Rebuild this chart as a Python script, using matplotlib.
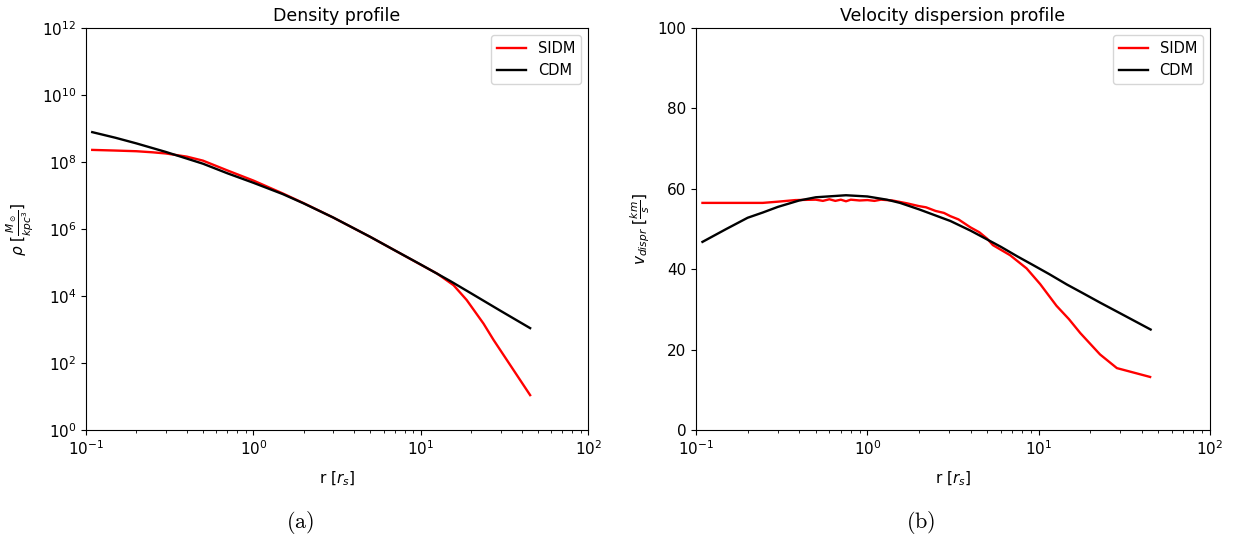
import matplotlib
matplotlib.use("Agg")
import matplotlib.pyplot as plt


# density profile, r in units of r_s
r_rho_cdm = [0.109, 0.15, 0.2, 0.3, 0.5, 0.7, 1.0, 1.5, 2.0, 3.0, 5.0, 7.0,
             10.0, 15.0, 20.0, 30.0, 45.0]
rho_cdm = [7.8e8, 5.3e8, 3.6e8, 2.0e8, 8.9e7, 4.6e7, 2.4e7, 1.1e7, 5.8e6,
           2.2e6, 5.8e5, 2.3e5, 8.7e4, 2.8e4, 1.2e4, 3.6e3, 1.1e3]

r_rho_sidm = [0.109, 0.15, 0.2, 0.25, 0.3, 0.4, 0.5, 0.7, 1.0, 1.5, 2.0,
              3.0, 5.0, 7.0, 10.0, 12.5, 15.7, 18.8, 21.0, 23.7, 27.2, 45.0]
rho_sidm = [2.3e8, 2.2e8, 2.1e8, 1.95e8, 1.8e8, 1.45e8, 1.1e8, 5.6e7, 2.8e7,
            1.15e7, 5.9e6, 2.2e6, 5.8e5, 2.3e5, 8.6e4, 4.7e4, 2.1e4, 7.6e3,
            3.5e3, 1.5e3, 4.9e2, 11.0]

# velocity dispersion profile
r_v_cdm = [0.109, 0.15, 0.2, 0.245, 0.3, 0.4, 0.5, 0.75, 1.0, 1.3, 1.55,
           2.0, 3.05, 4.0, 5.0, 6.0, 7.5, 9.3, 11.5, 14.6, 18.0, 22.8, 30.0,
           45.0]
v_cdm = [46.8, 50.0, 52.8, 54.1, 55.5, 57.1, 57.9, 58.4, 58.1, 57.3, 56.5,
         54.9, 52.0, 49.6, 47.4, 45.6, 43.2, 41.0, 38.8, 36.2, 34.1, 31.7,
         29.0, 25.0]

r_v_sidm = [0.109, 0.245, 0.3, 0.38, 0.5, 0.55, 0.6, 0.65, 0.7, 0.75, 0.8,
            0.9, 1.0, 1.1, 1.2, 1.4, 1.7, 2.0, 2.2, 2.5, 2.8, 3.05, 3.4, 4.0,
            4.5, 5.0, 5.4, 6.8, 8.5, 10.2, 12.7, 15.0, 17.5, 22.8, 28.6, 44.7]
v_sidm = [56.5, 56.5, 56.8, 57.2, 57.3, 57.0, 57.4, 57.0, 57.3, 56.9, 57.3,
          57.1, 57.2, 57.0, 57.3, 57.1, 56.4, 55.7, 55.4, 54.5, 54.0, 53.2,
          52.4, 50.4, 49.2, 47.6, 46.0, 43.5, 40.2, 36.3, 30.9, 27.6, 24.1,
          18.8, 15.4, 13.2]

fs = 11
fig = plt.figure(figsize=(12.37, 5.42), dpi=100)
ax1 = fig.add_axes([0.0695, 0.2066, 0.406, 0.7417])
ax2 = fig.add_axes([0.5627, 0.2066, 0.4155, 0.7417])

ax1.plot(r_rho_sidm, rho_sidm, color="red", lw=1.7, label="SIDM")
ax1.plot(r_rho_cdm, rho_cdm, color="black", lw=1.7, label="CDM")
ax1.set_xscale("log")
ax1.set_yscale("log")
ax1.set_xlim(1e-1, 1e2)
ax1.set_ylim(1e0, 1e12)
ax1.set_title("Density profile", fontsize=12.5, pad=5)
ax1.set_xlabel(r"r [$r_s$]", fontsize=fs, labelpad=8)
ax1.set_ylabel(r"$\rho\ [\frac{M_\odot}{kpc^3}]$", fontsize=fs)

ax2.plot(r_v_sidm, v_sidm, color="red", lw=1.7, label="SIDM")
ax2.plot(r_v_cdm, v_cdm, color="black", lw=1.7, label="CDM")
ax2.set_xscale("log")
ax2.set_xlim(1e-1, 1e2)
ax2.set_ylim(0, 100)
ax2.set_title("Velocity dispersion profile", fontsize=12.5, pad=5)
ax2.set_xlabel(r"r [$r_s$]", fontsize=fs, labelpad=8)
ax2.set_ylabel(r"$v_{dispr}\ [\frac{km}{s}]$", fontsize=fs)

for ax in (ax1, ax2):
    ax.tick_params(labelsize=fs)
    ax.legend(loc="upper right", fontsize=10.5)

# sub-figure captions
fig.text(0.2425, 0.025, r"$\mathrm{(a)}$", math_fontfamily="cm",
         fontsize=16, ha="center")
fig.text(0.744, 0.025, r"$\mathrm{(b)}$", math_fontfamily="cm",
         fontsize=16, ha="center")

plt.savefig("out.png")
plt.close()
